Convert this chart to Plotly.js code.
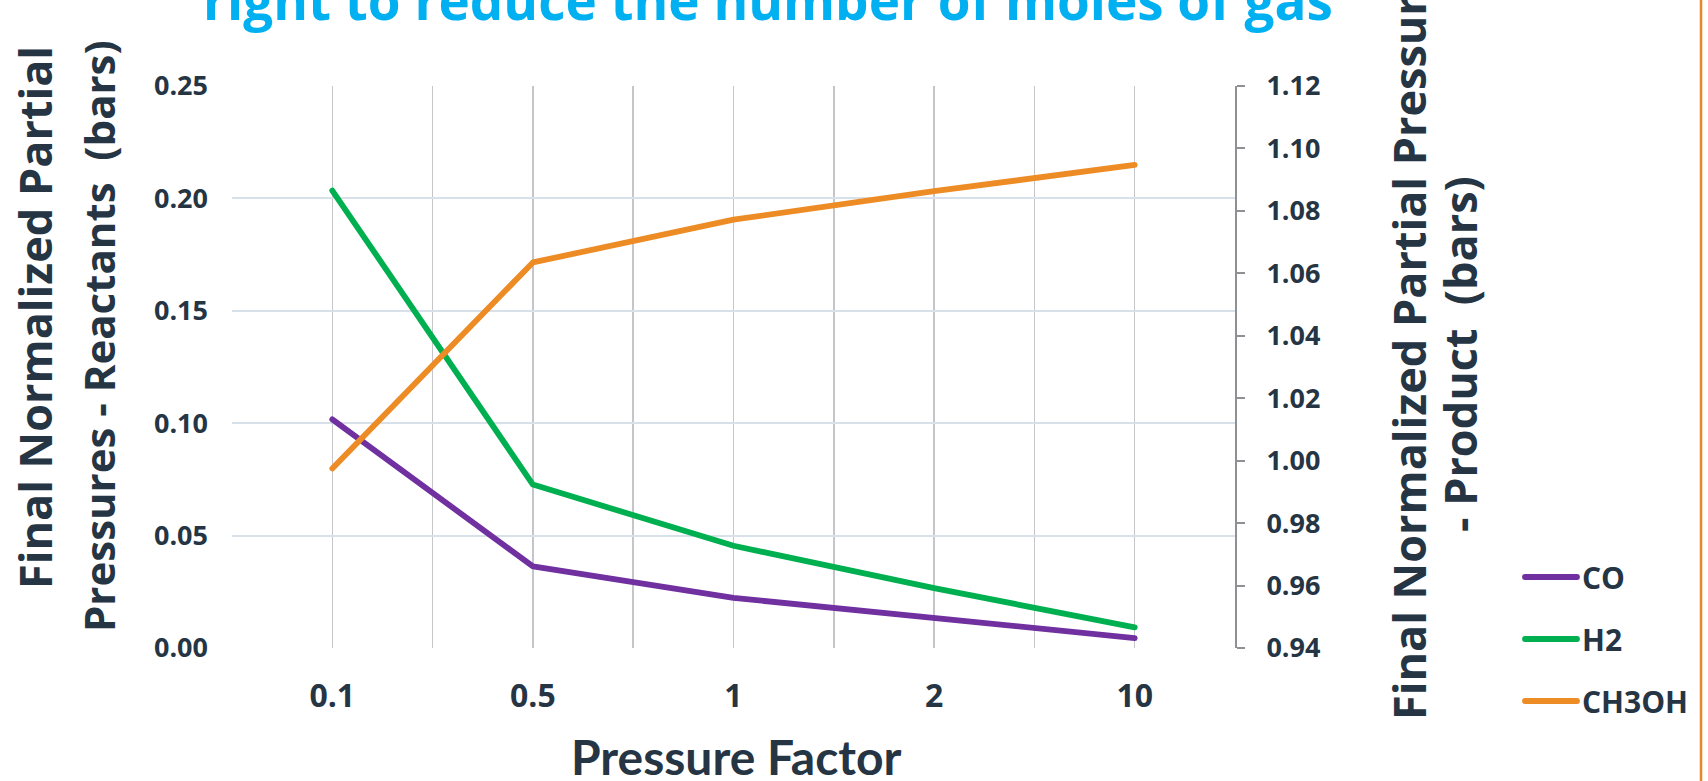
<!DOCTYPE html>
<html>
<head>
<meta charset="utf-8">
<script src="https://cdn.plot.ly/plotly-3.0.1.min.js"></script>
<style>
  html, body { margin: 0; padding: 0; background: #ffffff; }
  #chart { width: 1708px; height: 781px; }
</style>
</head>
<body>
<div id="chart"></div>
<script>
// Pressure factors on the category axis
const categories = ['0.1', '0.5', '1', '2', '10'];
// Reactant partial pressures (left axis, bars)
const coValues = [0.1017, 0.0363, 0.0223, 0.0135, 0.0044];
const h2Values = [0.2035, 0.0727, 0.0455, 0.0266, 0.0092];
// Product partial pressure (right axis, bars)
const ch3ohValues = [0.9975, 1.0635, 1.0772, 1.0863, 1.0947];
const seriesNames = ['CO', 'H2', 'CH3OH'];

const leftTicks = [0, 0.05, 0.10, 0.15, 0.20, 0.25];
const rightTicks = [0.94, 0.96, 0.98, 1.00, 1.02, 1.04, 1.06, 1.08, 1.10, 1.12];

const W = 1708, H = 781;
const M = { l: 232, r: 473, t: 86, b: 133 };
const plotW = W - M.l - M.r, plotH = H - M.t - M.b;
const px2x = x => (x - M.l) / plotW;
const px2y = y => (H - M.b - y) / plotH;

const ink = '#263544';
const sans = 'Open Sans, sans-serif';
const xIdx = categories.map((c, i) => i);

const traces = [
  { x: xIdx, y: coValues, name: seriesNames[0], type: 'scatter', mode: 'lines',
    line: { color: '#7030A0', width: 5.8 }, yaxis: 'y', legendgroup: 'a' },
  { x: xIdx, y: h2Values, name: seriesNames[1], type: 'scatter', mode: 'lines',
    line: { color: '#00B050', width: 5.8 }, yaxis: 'y', legendgroup: 'b' },
  { x: xIdx, y: ch3ohValues, name: seriesNames[2], type: 'scatter', mode: 'lines',
    line: { color: '#ED8B25', width: 5.8 }, yaxis: 'y2', legendgroup: 'c' }
];

const titleFont = { family: sans, size: 45, color: ink, weight: 700 };
const titleFontSmall = { family: sans, size: 42, color: ink, weight: 700 };

const layout = {
  width: W, height: H,
  margin: M,
  paper_bgcolor: '#ffffff', plot_bgcolor: '#ffffff',
  showlegend: true,
  legend: {
    x: px2x(1542), xanchor: 'left', y: px2y(551), yanchor: 'top',
    font: { family: sans, size: 30, color: ink, weight: 700 },
    tracegroupgap: 20, bgcolor: 'rgba(0,0,0,0)'
  },
  xaxis: {
    range: [-0.5, 4.5], tickmode: 'array', tickvals: xIdx, ticktext: categories,
    showgrid: true, gridcolor: '#c4c6c9', gridwidth: 1.5,
    minor: { tickmode: 'array', tickvals: [-0.5, 0.5, 1.5, 2.5, 3.5, 4.5],
             showgrid: true, gridcolor: '#c4c6c9', gridwidth: 1.5, ticks: '' },
    zeroline: false, showline: false, ticks: '',
    tickfont: { family: sans, size: 32, color: ink, weight: 700 },
    ticklabelstandoff: 26
  },
  yaxis: {
    range: [0, 0.25], tickmode: 'array', tickvals: leftTicks, tickformat: '.2f',
    showgrid: true, gridcolor: '#d8e0e9', gridwidth: 2,
    zeroline: false, showline: false, ticks: '',
    tickfont: { family: sans, size: 27, color: ink, weight: 700 },
    ticklabelstandoff: 23
  },
  yaxis2: {
    overlaying: 'y', side: 'right', range: [0.94, 1.12],
    tickmode: 'array', tickvals: rightTicks, tickformat: '.2f',
    showgrid: false, zeroline: false,
    showline: true, linecolor: '#8e9093', linewidth: 2,
    ticks: 'outside', ticklen: 8, tickwidth: 2, tickcolor: '#8e9093',
    tickfont: { family: sans, size: 27, color: ink, weight: 700 },
    ticklabelstandoff: 16
  },
  annotations: [
    { text: 'right to reduce the number of moles of gas', xref: 'paper', yref: 'paper',
      x: px2x(768), y: px2y(0), xanchor: 'center', yanchor: 'middle', showarrow: false,
      font: { family: sans, size: 53, color: '#00B0F0', weight: 700 } },
    { text: 'Final Normalized Partial', xref: 'paper', yref: 'paper', textangle: -90,
      x: px2x(34), y: px2y(318), xanchor: 'center', yanchor: 'middle', showarrow: false,
      font: titleFont },
    { text: 'Pressures - Reactants  (bars)', xref: 'paper', yref: 'paper', textangle: -90,
      x: px2x(98), y: px2y(336), xanchor: 'center', yanchor: 'middle', showarrow: false,
      font: titleFontSmall },
    { text: 'Final Normalized Partial Pressure', xref: 'paper', yref: 'paper', textangle: -90,
      x: px2x(1408), y: px2y(345), xanchor: 'center', yanchor: 'middle', showarrow: false,
      font: titleFont },
    { text: '- Product  (bars)', xref: 'paper', yref: 'paper', textangle: -90,
      x: px2x(1459), y: px2y(354), xanchor: 'center', yanchor: 'middle', showarrow: false,
      font: titleFont },
    { text: 'Pressure Factor', xref: 'paper', yref: 'paper',
      x: px2x(736), y: px2y(757), xanchor: 'center', yanchor: 'middle', showarrow: false,
      font: { family: 'Lato, sans-serif', size: 48, color: ink, weight: 700 } }
  ],
  shapes: [
    { type: 'line', xref: 'paper', yref: 'paper',
      x0: px2x(1701), x1: px2x(1701), y0: px2y(-2), y1: px2y(H + 2),
      line: { color: '#E8862A', width: 2.5 } }
  ]
};

Plotly.newPlot('chart', traces, layout, { displayModeBar: false, staticPlot: true })
  .then(() => {
    // let the legend samples run past the legend box, longer and round-capped
    document.querySelectorAll('.legend [clip-path]').forEach(el => el.removeAttribute('clip-path'));
    document.querySelectorAll('.legendlines path').forEach(p => {
      p.setAttribute('d', 'M-17,0h52');
      p.style.strokeLinecap = 'round';
    });
    document.querySelectorAll('.scatterlayer .js-line').forEach(p => {
      p.style.strokeLinejoin = 'round';
      p.style.strokeLinecap = 'round';
    });
  });
</script>
</body>
</html>
